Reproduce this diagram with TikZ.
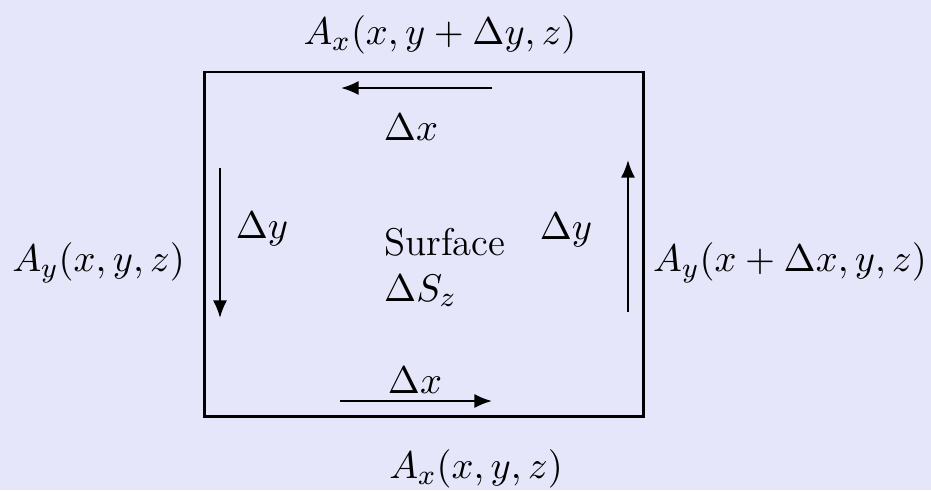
\documentclass[tikz,border=0pt]{standalone}
\usepackage{amsmath, amssymb}
\usepackage{tikz}
\usetikzlibrary{arrows.meta, positioning, calc}
\definecolor{lavbg}{RGB}{230,230,250}

\begin{document}
\begin{tikzpicture}[x=0.01cm, y=-0.01cm,
  loop/.style={draw, thick, minimum width=4.38cm, minimum height=3.44cm, inner sep=0pt},
  arr/.style={-{Latex[length=5pt, width=4pt]}, semithick},
  lbl/.style={inner sep=1pt, font=\fontsize{11pt}{13.5pt}\selectfont}
]
  \fill[lavbg] (0,0) rectangle (931,490);
  \useasboundingbox (0,0) rectangle (931,490);

  \node[loop] (box) at (424,244) {};

  % circulation arrows
  \coordinate (t1) at (492,88);  \coordinate (t2) at (341,88);
  \coordinate (l1) at (220,168); \coordinate (l2) at (220,318);
  \coordinate (b1) at (340,401); \coordinate (b2) at (492,401);
  \coordinate (r1) at (628,312); \coordinate (r2) at (628,160);
  \draw[arr] (t1) -- (t2);
  \draw[arr] (l1) -- (l2);
  \draw[arr] (b1) -- (b2);
  \draw[arr] (r1) -- (r2);

  \node[lbl] (dxt) at (411,127) {$\Delta x$};
  \node[lbl] (dxb) at (415,380) {$\Delta x$};
  \node[lbl] (dyl) at (262,229) {$\Delta y$};
  \node[lbl] (dyr) at (566,230) {$\Delta y$};

  \node[lbl, anchor=base west] (surf) at (380,255) {Surface};
  \node[lbl, anchor=base west] (dsz) at (380,301) {$\Delta S_z$};

  % field components on the edges
  \node[lbl] (axt) at (440,35) {$A_x(x,y+\Delta y,z)$};
  \node[lbl] (axb) at (476,469) {$A_x(x,y,z)$};
  \node[lbl, anchor=east] (ayl) at (189,263) {$A_y(x,y,z)$};
  \node[lbl, anchor=west] (ayr) at (649,263) {$A_y(x+\Delta x,y,z)$};
\end{tikzpicture}
\end{document}
